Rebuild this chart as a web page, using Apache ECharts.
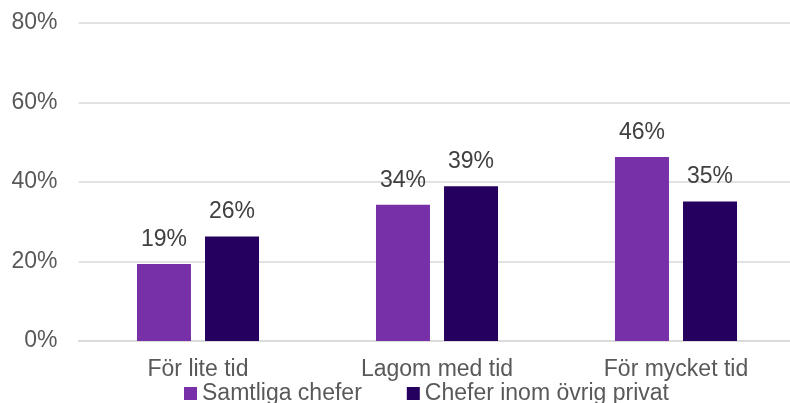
<!DOCTYPE html>
<html><head><meta charset="utf-8">
<script src="https://cdn.jsdelivr.net/npm/echarts@6/dist/echarts.min.js"></script>
<style>html,body{margin:0;padding:0;background:#fff}#c{width:790px;height:403px}</style>
</head><body><div id="c"></div>
<script>
var categories = ['För lite tid', 'Lagom med tid', 'För mycket tid'];
var seriesNames = ['Samtliga chefer', 'Chefer inom övrig privat'];
var samtliga = [19.4, 34.3, 46.3];
var ovrigPrivat = [26.3, 38.9, 35.1];
var yTicks = [0, 20, 40, 60, 80];

var font = 'Liberation Sans, Arial, sans-serif';
var chart = echarts.init(document.getElementById('c'));
var labelCfg = {show: true, position: 'top', distance: 13, color: '#404040', fontSize: 23, fontFamily: font,
  formatter: function(p){ return Math.round(p.value) + '%'; }};
chart.setOption({
  animation: false,
  textStyle: {fontFamily: font},
  grid: {left: 78.5, width: 717, top: 23, height: 318, containLabel: false, outerBoundsMode: 'none'},
  legend: {
    data: seriesNames, top: 377, left: 179, itemWidth: 13, itemHeight: 13, itemGap: 45,
    icon: 'rect',
    textStyle: {color: '#595959', fontSize: 23, fontFamily: font}
  },
  xAxis: {
    type: 'category', data: categories,
    axisLine: {lineStyle: {color: '#d9d9d9', width: 1.5}},
    axisTick: {show: false},
    axisLabel: {color: '#595959', fontSize: 23, fontFamily: font, margin: 17}
  },
  yAxis: {
    type: 'value', min: yTicks[0], max: yTicks[yTicks.length-1], interval: 20,
    axisLabel: {color: '#595959', fontSize: 23, fontFamily: font, margin: 21, formatter: '{value}%'},
    splitLine: {lineStyle: {color: '#d9d9d9', width: 1.5}},
    axisLine: {show: false}, axisTick: {show: false}
  },
  series: [
    {name: seriesNames[0], type: 'bar', data: samtliga, barWidth: 54, barGap: '26%',
     itemStyle: {color: '#7830A8'}, label: labelCfg},
    {name: seriesNames[1], type: 'bar', data: ovrigPrivat, barWidth: 54,
     itemStyle: {color: '#25005E'}, label: labelCfg}
  ]
});
</script></body></html>
